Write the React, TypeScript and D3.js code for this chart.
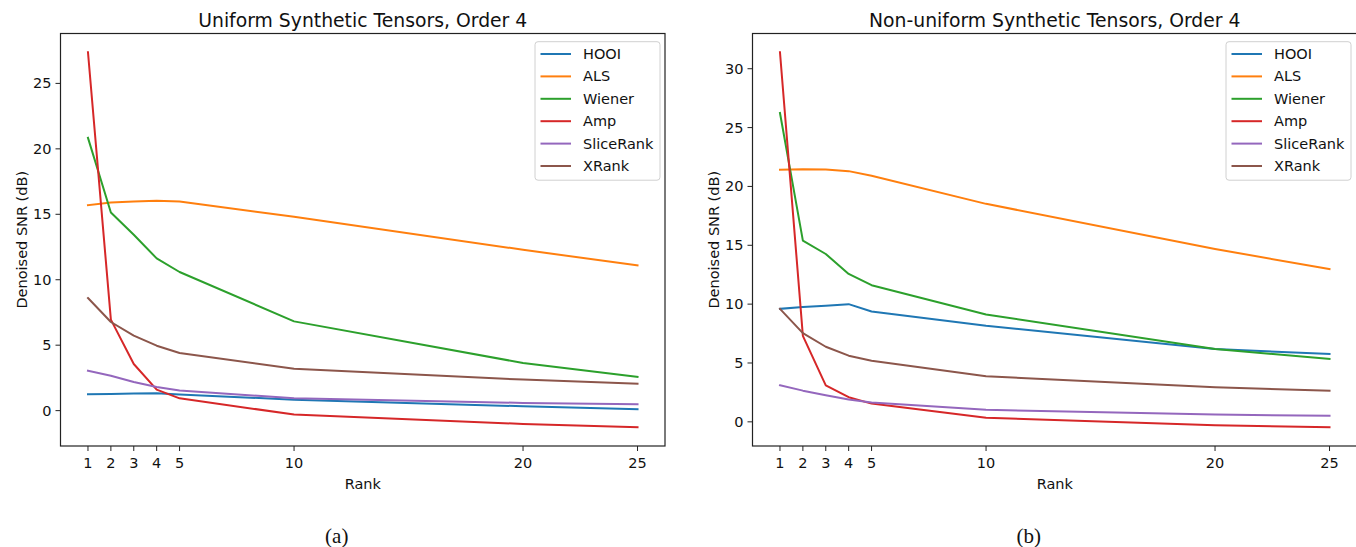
import React from "react";
import * as d3 from "d3";

const ranks = [1, 2, 3, 4, 5, 10, 20, 25];
const seriesNames = ["HOOI", "ALS", "Wiener", "Amp", "SliceRank", "XRank"];
const colors = ["#1f77b4", "#ff7f0e", "#2ca02c", "#d62728", "#9467bd", "#8c564b"];

// (a) Uniform
const uniHOOI = [1.25, 1.27, 1.3, 1.32, 1.23, 0.84, 0.33, 0.1];
const uniALS = [15.7, 15.9, 15.98, 16.03, 15.98, 14.81, 12.29, 11.09];
const uniWiener = [20.84, 15.14, 13.44, 11.63, 10.59, 6.82, 3.64, 2.57];
const uniAmp = [27.38, 6.95, 3.56, 1.6, 0.94, -0.3, -1.02, -1.27];
const uniSlice = [3.05, 2.67, 2.19, 1.81, 1.53, 0.94, 0.59, 0.48];
const uniXRank = [8.6, 6.77, 5.73, 4.96, 4.4, 3.2, 2.37, 2.06];

// (b) Non-uniform
const nonHOOI = [9.6, 9.75, 9.86, 10.0, 9.37, 8.16, 6.18, 5.76];
const nonALS = [21.41, 21.47, 21.44, 21.3, 20.9, 18.52, 14.69, 12.97];
const nonWiener = [26.24, 15.39, 14.26, 12.57, 11.61, 9.12, 6.18, 5.34];
const nonAmp = [31.4, 7.31, 3.1, 2.09, 1.55, 0.34, -0.29, -0.46];
const nonSlice = [3.1, 2.65, 2.26, 1.89, 1.64, 1.02, 0.62, 0.51];
const nonXRank = [9.6, 7.54, 6.38, 5.62, 5.19, 3.87, 2.93, 2.65];

const xTicks = [1, 2, 3, 4, 5, 10, 20, 25];
const yTicksA = [0, 5, 10, 15, 20, 25];
const yTicksB = [0, 5, 10, 15, 20, 25, 30];

const FONT = "DejaVu Sans, sans-serif";

type PanelProps = {
  left: number;
  right: number;
  top: number;
  bottom: number;
  title: string;
  data: number[][];
  yTicks: number[];
  caption: string;
  legendX: number;
};

function Panel({ left, right, top, bottom, title, data, yTicks, caption, legendX }: PanelProps) {
  const x = d3.scaleLinear().domain([-0.2, 26.2]).range([left, right]);
  const all = data.flat();
  const lo = d3.min(all) as number;
  const hi = d3.max(all) as number;
  const pad = 0.05 * (hi - lo);
  const y = d3.scaleLinear().domain([lo - pad, hi + pad]).range([bottom, top]);
  const line = d3
    .line<number>()
    .x((_, i) => x(ranks[i]))
    .y((d) => y(d));
  const cx = (left + right) / 2;
  const legTop = 41.7;
  const legStep = 22.4;
  return (
    <g>
      <defs>
        <clipPath id={"clip" + caption}>
          <rect x={left} y={top} width={right - left} height={bottom - top} />
        </clipPath>
      </defs>
      <g clipPath={`url(#clip${caption})`}>
        {data.map((s, k) => (
          <path
            key={k}
            d={line(s) || ""}
            fill="none"
            stroke={colors[k]}
            strokeWidth={2}
            strokeLinejoin="round"
            strokeLinecap="square"
          />
        ))}
      </g>
      <rect x={left} y={top} width={right - left} height={bottom - top} fill="none" stroke="#222" strokeWidth={1.2} />
      {xTicks.map((t) => (
        <g key={"x" + t}>
          <line x1={x(t)} x2={x(t)} y1={bottom} y2={bottom + 5} stroke="#222" strokeWidth={1} />
          <text x={x(t)} y={bottom + 22} textAnchor="middle" fontSize={14.5} fontFamily={FONT} fill="#111">
            {t}
          </text>
        </g>
      ))}
      {yTicks.map((t) => (
        <g key={"y" + t}>
          <line x1={left - 5} x2={left} y1={y(t)} y2={y(t)} stroke="#222" strokeWidth={1} />
          <text x={left - 9} y={y(t) + 5} textAnchor="end" fontSize={14.5} fontFamily={FONT} fill="#111">
            {t}
          </text>
        </g>
      ))}
      <text x={cx} y={26.5} textAnchor="middle" fontSize={18.8} fontFamily={FONT} fill="#111">
        {title}
      </text>
      <text x={cx} y={489} textAnchor="middle" fontSize={14.5} fontFamily={FONT} fill="#111">
        Rank
      </text>
      <text
        transform={`translate(${left - 39},${(top + bottom) / 2}) rotate(-90)`}
        textAnchor="middle"
        dy="0.35em"
        fontSize={14.5}
        fontFamily={FONT}
        fill="#111"
      >
        Denoised SNR (dB)
      </text>
      <text x={cx - 26} y={543} textAnchor="middle" fontSize={21} fontFamily="Liberation Serif, Times New Roman, serif" fill="#111">
        {caption}
      </text>
      <g>
        <rect x={legendX} y={legTop} width={125} height={138.5} rx={3} fill="#fff" fillOpacity={0.8} stroke="#d0d0d0" strokeWidth={1} />
        {seriesNames.map((n, k) => (
          <g key={n}>
            <line
              x1={legendX + 5.5}
              x2={legendX + 36}
              y1={legTop + 12.3 + k * legStep}
              y2={legTop + 12.3 + k * legStep}
              stroke={colors[k]}
              strokeWidth={2}
            />
            <text x={legendX + 48} y={legTop + 12.3 + k * legStep + 5} fontSize={14.5} fontFamily={FONT} fill="#111">
              {n}
            </text>
          </g>
        ))}
      </g>
    </g>
  );
}

export default function App() {
  return (
    <svg
      width={1356}
      height={547}
      style={{ position: "absolute", left: 0, top: 0, background: "#fff" }}
    >
      <rect x={0} y={0} width={1356} height={547} fill="#fff" />
      <Panel
        left={60.5}
        right={665}
        top={33.5}
        bottom={446}
        title="Uniform Synthetic Tensors, Order 4"
        data={[uniHOOI, uniALS, uniWiener, uniAmp, uniSlice, uniXRank]}
        yTicks={yTicksA}
        caption="(a)"
        legendX={535}
      />
      <Panel
        left={752.5}
        right={1357}
        top={33.5}
        bottom={446}
        title="Non-uniform Synthetic Tensors, Order 4"
        data={[nonHOOI, nonALS, nonWiener, nonAmp, nonSlice, nonXRank]}
        yTicks={yTicksB}
        caption="(b)"
        legendX={1226}
      />
    </svg>
  );
}
